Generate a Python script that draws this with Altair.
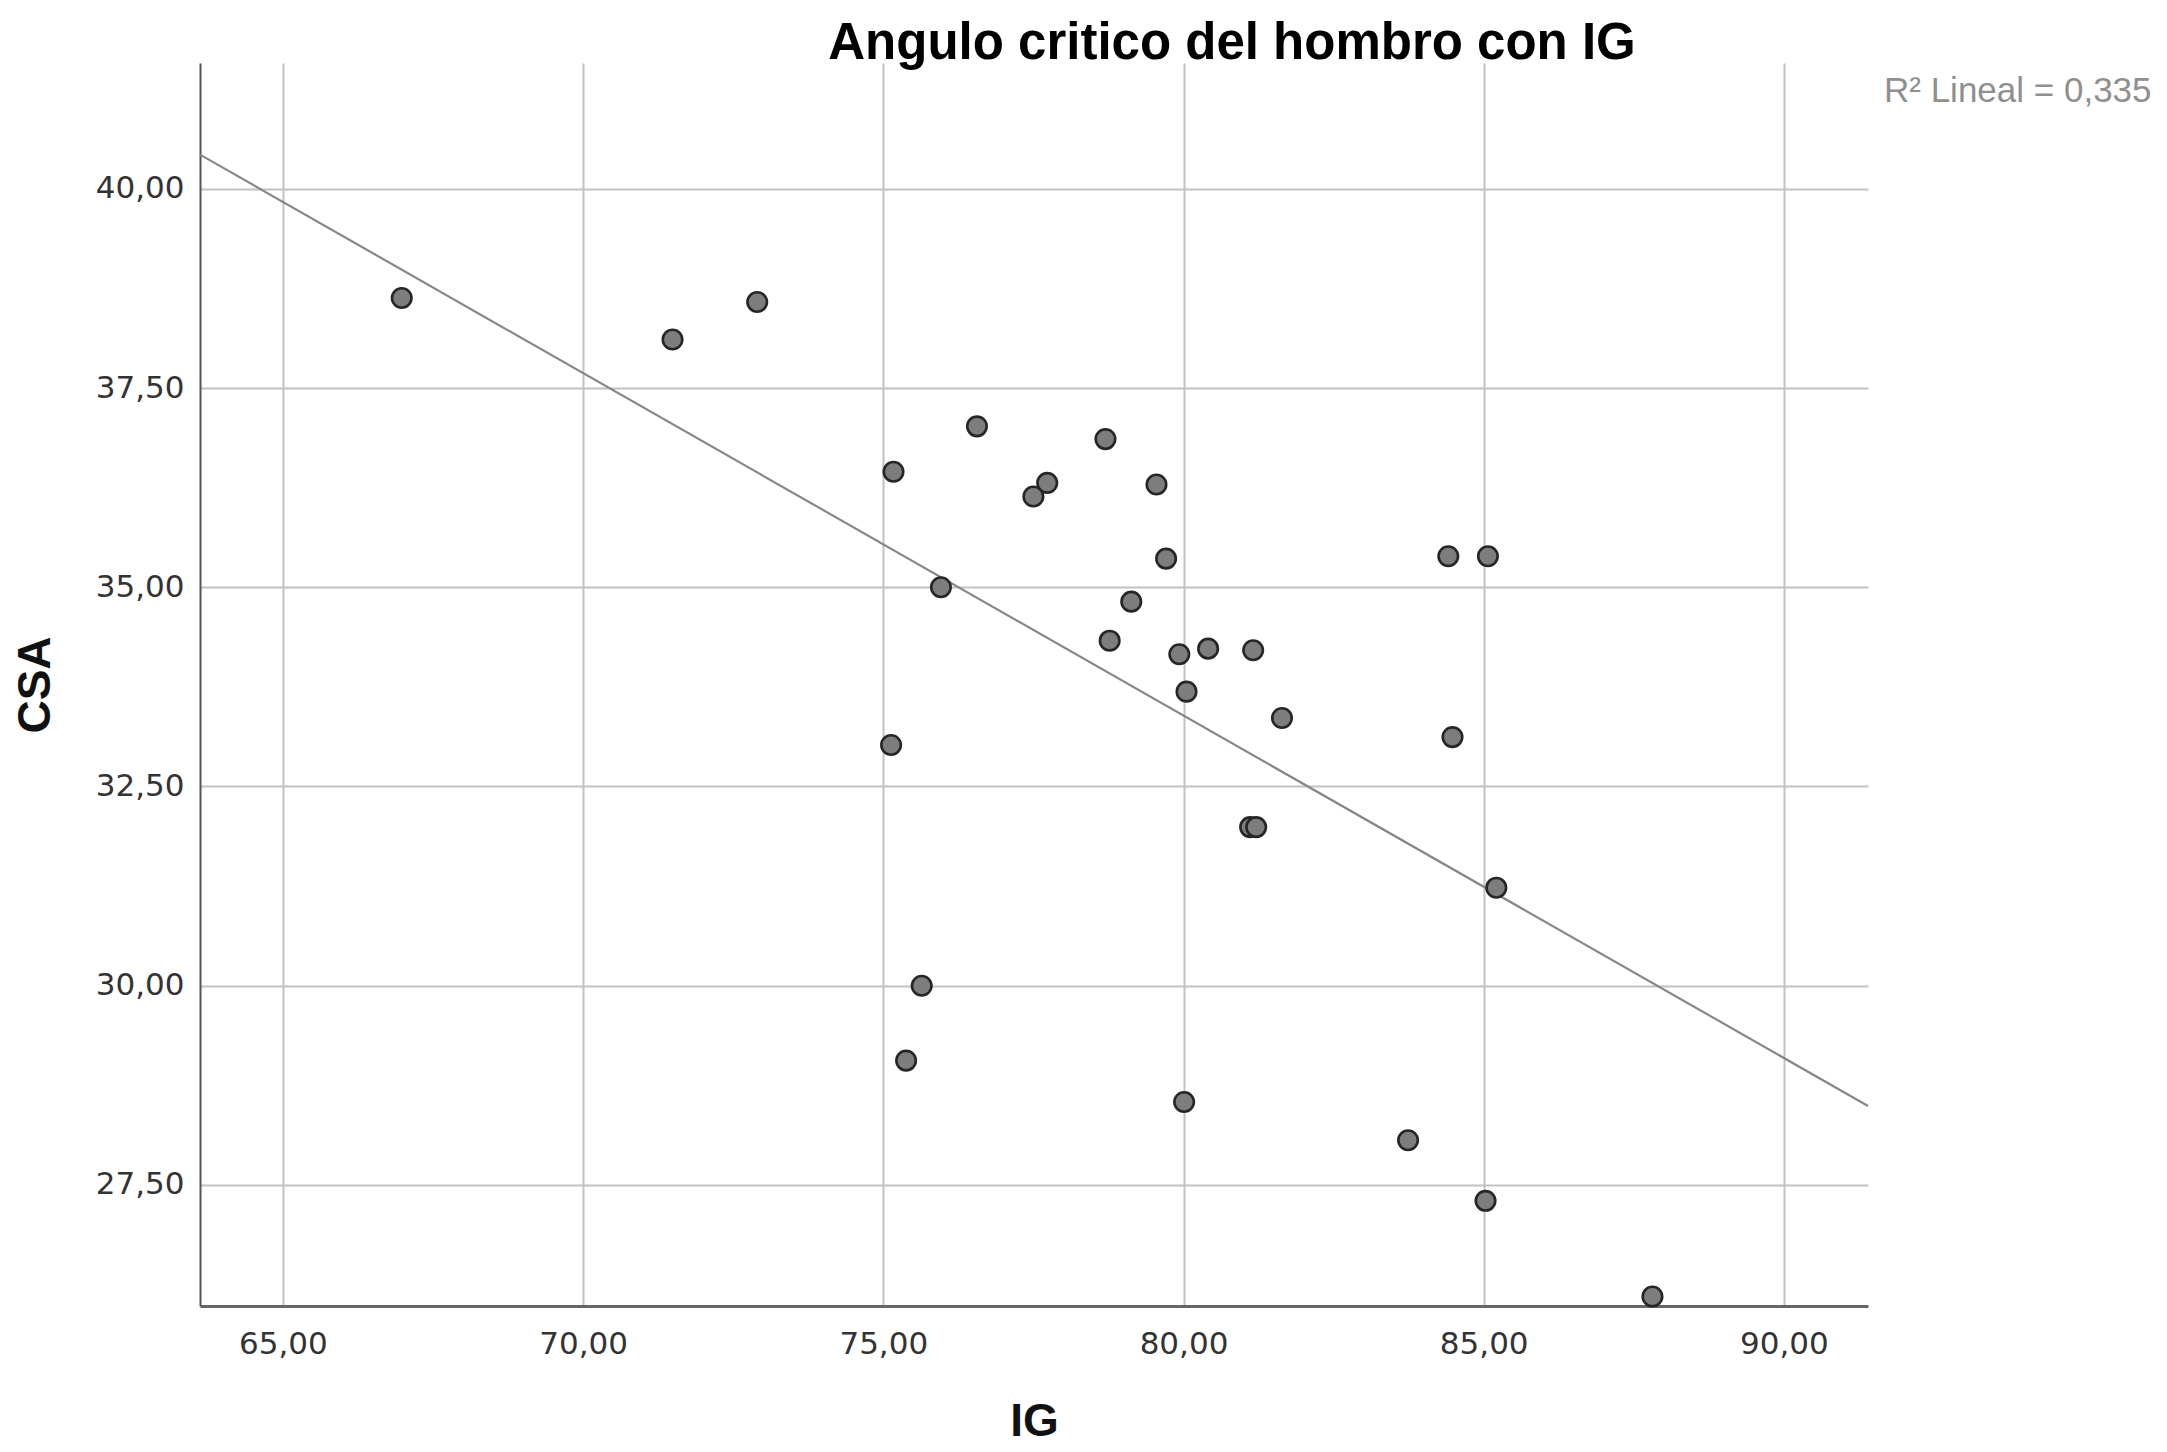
import altair as alt
import pandas as pd

# Values
ig = [66.98, 71.49, 72.90, 76.56, 78.70, 75.17, 77.73, 77.50, 79.55, 79.71,
      84.41, 85.07, 75.96, 79.13, 78.77, 79.93, 80.41, 81.16, 80.05, 81.64,
      84.48, 75.13, 81.11, 81.21, 85.21, 75.64, 75.38, 80.01, 83.74, 85.03, 87.81]
csa = [38.63, 38.11, 38.58, 37.02, 36.86, 36.45, 36.31, 36.14, 36.29, 35.36,
       35.39, 35.39, 35.00, 34.82, 34.33, 34.16, 34.23, 34.21, 33.69, 33.36,
       33.12, 33.02, 31.99, 31.99, 31.23, 30.00, 29.06, 28.54, 28.06, 27.30, 26.10]

x_ticks = [65, 70, 75, 80, 85, 90]
y_ticks = [27.5, 30, 32.5, 35, 37.5, 40]
x_domain = [63.62, 91.40]
y_domain = [25.98, 41.58]
r2_text = ["R\u00b2 Lineal = 0,335"]
title_text = "Angulo critico del hombro con IG"

df = pd.DataFrame({"IG": ig, "CSA": csa})
fmt = "replace(format(datum.value, '.2f'), '.', ',')"

grid_color = "#c2c2c2"
label_font = "DejaVu Sans"
title_font = "Liberation Sans"

x_axis = alt.Axis(
    values=x_ticks, labelExpr=fmt, title="IG",
    grid=True, gridColor=grid_color, gridWidth=2,
    domainColor="#666666", domainWidth=3,
    ticks=False, tickSize=0,
    labelFont=label_font, labelFontSize=31, labelColor="#333333", labelPadding=23,
    titleFont=title_font, titleFontSize=46, titleFontWeight="bold", titleColor="#111111",
    titleY=129, titleBaseline="alphabetic",
)
y_axis = alt.Axis(
    values=y_ticks, labelExpr=fmt, title="CSA",
    grid=True, gridColor=grid_color, gridWidth=2,
    domainColor="#555555", domainWidth=2,
    ticks=False, tickSize=0,
    labelFont=label_font, labelFontSize=31, labelColor="#333333", labelPadding=16,
    titleFont=title_font, titleFontSize=46, titleFontWeight="bold", titleColor="#111111",
    titleX=-151, titleBaseline="alphabetic", titleAngle=270,
)

xs = alt.Scale(domain=x_domain, nice=False, zero=False)
ys = alt.Scale(domain=y_domain, nice=False, zero=False)

base = alt.Chart(df)

fit = base.transform_regression("IG", "CSA", extent=x_domain).mark_line(
    color="#888888", strokeWidth=2.2
).encode(
    x=alt.X("IG:Q", scale=xs, axis=x_axis),
    y=alt.Y("CSA:Q", scale=ys, axis=y_axis),
)

points = base.mark_point(
    shape="circle", filled=True, size=380, fill="#7d7d7d", fillOpacity=1,
    stroke="#262626", strokeWidth=2.6, opacity=1
).encode(
    x=alt.X("IG:Q", scale=xs),
    y=alt.Y("CSA:Q", scale=ys),
)

r2 = alt.Chart(pd.DataFrame({"label": r2_text})).mark_text(
    align="left", baseline="alphabetic", font=title_font, fontSize=35, color="#8f8f8f"
).encode(
    x=alt.value(1684), y=alt.value(39), text="label:N"
)

chart = alt.layer(fit, points, r2).properties(
    width=1668, height=1243,
    title=alt.TitleParams(
        title_text, font=title_font, fontSize=51, fontWeight="bold", color="#000000",
        anchor="middle", frame="group", dx=198, dy=54, offset=7, baseline="alphabetic",
    ),
    autosize=alt.AutoSizeParams(type="none"),
    padding={"left": 192, "top": 55, "right": 291, "bottom": 138},
    background="white",
).configure_view(stroke=None)

chart.save("out.html", embed_options={"renderer": "svg", "actions": False})
